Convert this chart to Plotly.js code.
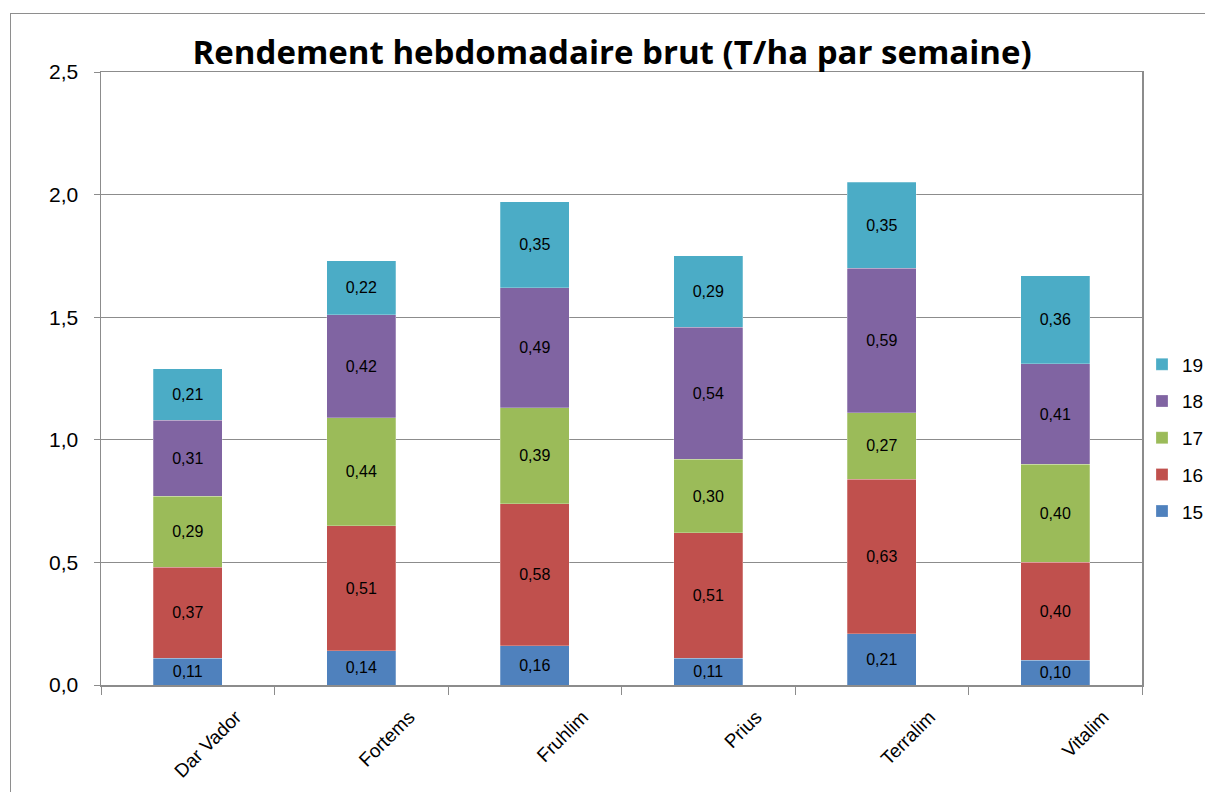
<!DOCTYPE html>
<html>
<head>
<meta charset="utf-8">
<script src="https://cdn.plot.ly/plotly-3.0.1.min.js"></script>
<style>
html,body{margin:0;padding:0;background:#fff;}
#wrap{position:relative;width:1205px;height:792px;overflow:hidden;}
#frame{position:absolute;left:10px;top:13px;width:1300px;height:900px;border:1px solid #8e8e8e;box-sizing:border-box;pointer-events:none;}
#chart{position:absolute;left:0;top:0;width:1205px;height:792px;}
</style>
</head>
<body>
<div id="wrap"><div id="frame"></div><div id="chart"></div></div>
<script>
const categories = ["Dar Vador", "Fortems", "Fruhlim", "Prius", "Terralim", "Vitalim"];
const seriesNames = ["15", "16", "17", "18", "19"];
const s15 = [0.11, 0.14, 0.16, 0.11, 0.21, 0.10];
const s16 = [0.37, 0.51, 0.58, 0.51, 0.63, 0.40];
const s17 = [0.29, 0.44, 0.39, 0.30, 0.27, 0.40];
const s18 = [0.31, 0.42, 0.49, 0.54, 0.59, 0.41];
const s19 = [0.21, 0.22, 0.35, 0.29, 0.35, 0.36];
const yTickVals = [0, 0.5, 1.0, 1.5, 2.0, 2.5];

const colors = ["#4F81BD", "#C0504D", "#9BBB59", "#8064A2", "#4BACC6"];
const allSeries = [s15, s16, s17, s18, s19];

const traces = allSeries.map((vals, i) => ({
  type: "bar",
  name: seriesNames[i],
  x: categories,
  y: vals,
  text: vals.map(v => v.toFixed(2).replace(".", ",")),
  textposition: "inside",
  insidetextanchor: "middle",
  textangle: 0,
  constraintext: "none",
  textfont: {family: "Liberation Sans, Arial, sans-serif", size: 16, color: "#000"},
  marker: {color: colors[i], line: {color: "rgba(255,255,255,0.5)", width: 0.5}},
  legendgroup: "g" + i,
  legendrank: 100 - i,
  hoverinfo: "none"
}));

const layout = {
  width: 1205, height: 792,
  paper_bgcolor: "rgba(0,0,0,0)",
  plot_bgcolor: "#fff",
  barmode: "stack",
  bargap: 0.6,
  separators: ", ",
  margin: {l: 101, r: 63, t: 72, b: 107, autoexpand: false},
  title: {
    text: "<b>Rendement hebdomadaire brut (T/ha par semaine)</b>",
    font: {family: "Open Sans, sans-serif", size: 33, color: "#000"},
    x: 0.508, xanchor: "center", y: 0.934, yanchor: "middle"
  },
  xaxis: {
    type: "category",
    tickson: "boundaries",
    ticks: "outside", ticklen: 8, tickcolor: "#8c8c8c", tickwidth: 1,
    tickangle: -45,
    tickfont: {family: "Liberation Sans, Arial, sans-serif", size: 19, color: "#000"},
    showline: true, linecolor: "#8c8c8c", linewidth: 1.5, mirror: true,
    showgrid: false,
    ticklabelshift: 48,
    ticklabelstandoff: 12
  },
  yaxis: {
    range: [0, 2.5],
    tickvals: yTickVals,
    tickformat: ".1f",
    ticks: "outside", ticklen: 6, tickcolor: "#8c8c8c",
    tickfont: {family: "Liberation Sans, Arial, sans-serif", size: 21, color: "#000"},
    ticklabelstandoff: 11,
    showline: true, linecolor: "#8c8c8c", linewidth: 1.5, mirror: true,
    showgrid: true, gridcolor: "#8c8c8c", gridwidth: 1,
    zeroline: false
  },
  showlegend: true,
  legend: {
    traceorder: "grouped",
    tracegroupgap: 9,
    x: 1.0, xanchor: "left",
    y: 0.403, yanchor: "middle",
    font: {family: "Liberation Sans, Arial, sans-serif", size: 19, color: "#000"},
    itemwidth: 30,
    bgcolor: "rgba(0,0,0,0)"
  }
};

Plotly.newPlot("chart", traces, layout, {displayModeBar: false, staticPlot: true});
</script>
</body>
</html>
